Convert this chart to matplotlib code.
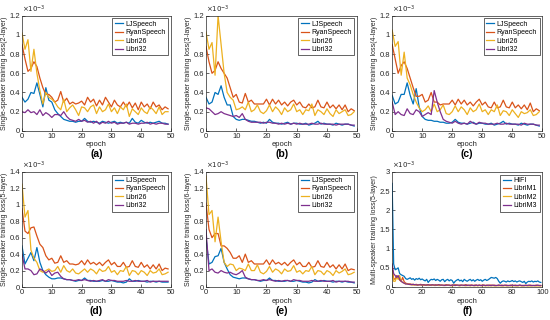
import numpy as np
import matplotlib.pyplot as plt

plt.rcParams['font.family'] = ['Liberation Sans', 'DejaVu Sans']

# losses in units of 1e-3
single_names = ['LJSpeech', 'RyanSpeech', 'Libri26', 'Libri32']
multi_names = ['HIFI', 'LibriM1', 'LibriM2', 'LibriM3']

a_lj = [0.35, 0.30, 0.33, 0.40, 0.39, 0.50, 0.38, 0.25, 0.45, 0.32, 0.30, 0.22, 0.18, 0.15, 0.12, 0.11, 0.10, 0.10, 0.09, 0.10,
        0.10, 0.13, 0.10, 0.09, 0.10, 0.09, 0.08, 0.10, 0.09, 0.08, 0.09, 0.10, 0.08, 0.09, 0.08, 0.09, 0.08, 0.13, 0.09, 0.08,
        0.11, 0.09, 0.08, 0.09, 0.08, 0.09, 0.10, 0.08, 0.08, 0.07]
a_ryan = [0.90, 0.75, 0.62, 0.65, 0.72, 0.67, 0.55, 0.45, 0.38, 0.38, 0.35, 0.30, 0.32, 0.41, 0.30, 0.34, 0.28, 0.30, 0.28, 0.29,
          0.31, 0.27, 0.35, 0.30, 0.33, 0.26, 0.32, 0.27, 0.35, 0.30, 0.25, 0.32, 0.27, 0.25, 0.30, 0.25, 0.30, 0.24, 0.29, 0.22,
          0.30, 0.25, 0.28, 0.23, 0.30, 0.25, 0.27, 0.22, 0.25, 0.23]
a_l26 = [1.02, 0.85, 0.95, 0.62, 0.85, 0.60, 0.42, 0.28, 0.40, 0.35, 0.33, 0.30, 0.25, 0.22, 0.33, 0.20, 0.24, 0.27, 0.22, 0.16,
         0.25, 0.24, 0.20, 0.25, 0.27, 0.18, 0.25, 0.20, 0.22, 0.28, 0.20, 0.24, 0.18, 0.25, 0.22, 0.28, 0.15, 0.23, 0.20, 0.17,
         0.24, 0.20, 0.18, 0.25, 0.22, 0.18, 0.25, 0.17, 0.20, 0.20]
a_l32 = [0.20, 0.19, 0.22, 0.19, 0.20, 0.17, 0.22, 0.16, 0.19, 0.17, 0.14, 0.17, 0.17, 0.16, 0.20, 0.15, 0.12, 0.11, 0.10, 0.12,
         0.10, 0.11, 0.09, 0.10, 0.08, 0.10, 0.07, 0.09, 0.08, 0.10, 0.08, 0.09, 0.07, 0.08, 0.08, 0.09, 0.07, 0.08, 0.08, 0.07,
         0.08, 0.08, 0.09, 0.07, 0.08, 0.07, 0.08, 0.08, 0.07, 0.07]

b_lj = [0.35, 0.28, 0.30, 0.40, 0.38, 0.47, 0.35, 0.27, 0.27, 0.15, 0.12, 0.11, 0.12, 0.12, 0.11, 0.10, 0.10, 0.09, 0.08, 0.09,
        0.08, 0.12, 0.09, 0.08, 0.08, 0.07, 0.08, 0.09, 0.07, 0.08, 0.08, 0.07, 0.07, 0.08, 0.06, 0.07, 0.08, 0.10, 0.07, 0.08,
        0.07, 0.07, 0.06, 0.08, 0.07, 0.06, 0.07, 0.07, 0.06, 0.05]
b_ryan = [0.88, 0.72, 0.60, 0.63, 0.72, 0.65, 0.60, 0.55, 0.45, 0.35, 0.38, 0.30, 0.29, 0.39, 0.30, 0.32, 0.28, 0.28, 0.28, 0.28,
          0.33, 0.27, 0.33, 0.28, 0.32, 0.27, 0.30, 0.26, 0.30, 0.32, 0.27, 0.30, 0.25, 0.24, 0.28, 0.24, 0.25, 0.32, 0.25, 0.24,
          0.30, 0.24, 0.27, 0.23, 0.27, 0.22, 0.27, 0.20, 0.23, 0.21]
b_l26 = [1.03, 0.85, 0.92, 0.58, 1.20, 0.90, 0.60, 0.40, 0.35, 0.32, 0.22, 0.23, 0.25, 0.22, 0.30, 0.20, 0.22, 0.27, 0.20, 0.18,
         0.21, 0.27, 0.20, 0.25, 0.22, 0.17, 0.24, 0.20, 0.22, 0.28, 0.20, 0.22, 0.17, 0.22, 0.21, 0.28, 0.16, 0.22, 0.20, 0.17,
         0.23, 0.18, 0.15, 0.22, 0.18, 0.20, 0.22, 0.16, 0.17, 0.20]
b_l32 = [0.24, 0.23, 0.20, 0.17, 0.18, 0.20, 0.18, 0.17, 0.16, 0.15, 0.16, 0.14, 0.18, 0.12, 0.10, 0.09, 0.09, 0.09, 0.09, 0.08,
         0.09, 0.09, 0.08, 0.08, 0.07, 0.08, 0.07, 0.08, 0.07, 0.08, 0.07, 0.08, 0.07, 0.07, 0.07, 0.08, 0.07, 0.07, 0.08, 0.07,
         0.07, 0.07, 0.07, 0.06, 0.07, 0.07, 0.07, 0.07, 0.06, 0.06]

c_lj = [0.37, 0.28, 0.30, 0.38, 0.38, 0.50, 0.37, 0.28, 0.44, 0.25, 0.15, 0.12, 0.11, 0.11, 0.10, 0.10, 0.09, 0.09, 0.08, 0.08,
        0.09, 0.12, 0.09, 0.08, 0.08, 0.07, 0.08, 0.09, 0.07, 0.08, 0.08, 0.07, 0.07, 0.08, 0.06, 0.07, 0.08, 0.10, 0.07, 0.08,
        0.07, 0.07, 0.06, 0.08, 0.07, 0.06, 0.07, 0.07, 0.06, 0.05]
c_ryan = [0.90, 0.75, 0.60, 0.68, 0.72, 0.65, 0.55, 0.45, 0.36, 0.36, 0.38, 0.30, 0.32, 0.40, 0.30, 0.30, 0.27, 0.28, 0.28, 0.28,
          0.32, 0.27, 0.33, 0.28, 0.32, 0.27, 0.30, 0.26, 0.30, 0.33, 0.27, 0.30, 0.25, 0.24, 0.30, 0.24, 0.25, 0.32, 0.25, 0.24,
          0.30, 0.24, 0.27, 0.23, 0.27, 0.22, 0.29, 0.20, 0.23, 0.21]
c_l26 = [1.05, 0.88, 0.93, 0.58, 0.82, 0.55, 0.48, 0.38, 0.30, 0.24, 0.20, 0.22, 0.26, 0.20, 0.28, 0.20, 0.22, 0.27, 0.18, 0.17,
         0.20, 0.26, 0.20, 0.25, 0.22, 0.17, 0.24, 0.20, 0.22, 0.28, 0.20, 0.22, 0.17, 0.22, 0.20, 0.27, 0.16, 0.21, 0.20, 0.16,
         0.22, 0.18, 0.14, 0.20, 0.18, 0.19, 0.22, 0.16, 0.17, 0.20]
c_l32 = [0.30, 0.17, 0.20, 0.17, 0.16, 0.23, 0.18, 0.17, 0.22, 0.20, 0.15, 0.17, 0.19, 0.17, 0.42, 0.30, 0.20, 0.12, 0.10, 0.09,
         0.08, 0.10, 0.08, 0.07, 0.08, 0.07, 0.10, 0.08, 0.07, 0.09, 0.08, 0.08, 0.07, 0.07, 0.07, 0.08, 0.07, 0.07, 0.08, 0.07,
         0.07, 0.07, 0.07, 0.06, 0.08, 0.07, 0.07, 0.07, 0.06, 0.06]

d_lj = [0.50, 0.28, 0.35, 0.42, 0.32, 0.48, 0.30, 0.20, 0.15, 0.12, 0.10, 0.10, 0.11, 0.11, 0.10, 0.09, 0.09, 0.08, 0.07, 0.08,
        0.08, 0.11, 0.08, 0.08, 0.07, 0.07, 0.07, 0.08, 0.07, 0.07, 0.08, 0.07, 0.06, 0.06, 0.05, 0.06, 0.10, 0.07, 0.07, 0.08,
        0.07, 0.07, 0.06, 0.07, 0.07, 0.06, 0.07, 0.06, 0.06, 0.06]
d_ryan = [0.95, 0.68, 0.65, 0.72, 0.73, 0.62, 0.52, 0.48, 0.38, 0.33, 0.35, 0.29, 0.30, 0.38, 0.30, 0.32, 0.28, 0.28, 0.27, 0.28,
          0.32, 0.27, 0.33, 0.28, 0.30, 0.27, 0.30, 0.26, 0.30, 0.33, 0.27, 0.30, 0.25, 0.25, 0.30, 0.24, 0.25, 0.32, 0.25, 0.24,
          0.30, 0.24, 0.27, 0.22, 0.27, 0.22, 0.28, 0.20, 0.23, 0.22]
d_l26 = [1.25, 0.85, 0.93, 0.45, 0.35, 0.30, 0.20, 0.18, 0.20, 0.22, 0.19, 0.20, 0.25, 0.18, 0.26, 0.20, 0.18, 0.22, 0.17, 0.16,
         0.19, 0.22, 0.18, 0.22, 0.20, 0.16, 0.22, 0.19, 0.20, 0.25, 0.18, 0.20, 0.15, 0.20, 0.19, 0.25, 0.14, 0.20, 0.19, 0.15,
         0.20, 0.18, 0.14, 0.20, 0.17, 0.18, 0.22, 0.15, 0.16, 0.18]
d_l32 = [0.40, 0.22, 0.22, 0.20, 0.15, 0.16, 0.22, 0.20, 0.17, 0.20, 0.14, 0.17, 0.18, 0.13, 0.10, 0.09, 0.09, 0.08, 0.08, 0.09,
         0.08, 0.09, 0.08, 0.07, 0.08, 0.07, 0.08, 0.09, 0.07, 0.09, 0.08, 0.08, 0.07, 0.07, 0.07, 0.08, 0.07, 0.07, 0.08, 0.07,
         0.07, 0.07, 0.08, 0.06, 0.07, 0.07, 0.07, 0.07, 0.07, 0.07]

e_lj = [0.60, 0.28, 0.30, 0.37, 0.38, 0.47, 0.30, 0.22, 0.15, 0.12, 0.11, 0.10, 0.11, 0.11, 0.10, 0.09, 0.09, 0.08, 0.07, 0.08,
        0.08, 0.11, 0.08, 0.08, 0.07, 0.07, 0.07, 0.08, 0.07, 0.07, 0.08, 0.07, 0.06, 0.06, 0.05, 0.06, 0.09, 0.07, 0.07, 0.08,
        0.07, 0.07, 0.06, 0.07, 0.07, 0.06, 0.07, 0.06, 0.06, 0.05]
e_ryan = [1.02, 0.70, 0.60, 0.65, 0.65, 0.50, 0.50, 0.47, 0.42, 0.35, 0.35, 0.38, 0.30, 0.40, 0.30, 0.32, 0.28, 0.28, 0.28, 0.28,
          0.33, 0.27, 0.33, 0.28, 0.30, 0.27, 0.30, 0.26, 0.30, 0.33, 0.27, 0.30, 0.25, 0.25, 0.30, 0.24, 0.25, 0.32, 0.25, 0.24,
          0.30, 0.24, 0.27, 0.22, 0.27, 0.22, 0.28, 0.20, 0.22, 0.21]
e_l26 = [1.35, 0.88, 0.93, 0.55, 0.85, 0.55, 0.30, 0.25, 0.28, 0.27, 0.20, 0.23, 0.22, 0.20, 0.28, 0.20, 0.20, 0.27, 0.18, 0.16,
         0.19, 0.25, 0.18, 0.22, 0.20, 0.16, 0.22, 0.19, 0.20, 0.26, 0.18, 0.20, 0.16, 0.20, 0.19, 0.25, 0.15, 0.20, 0.19, 0.15,
         0.20, 0.18, 0.14, 0.20, 0.17, 0.19, 0.22, 0.15, 0.16, 0.18]
e_l32 = [0.70, 0.20, 0.22, 0.18, 0.17, 0.20, 0.18, 0.17, 0.18, 0.16, 0.15, 0.17, 0.20, 0.12, 0.10, 0.09, 0.09, 0.08, 0.08, 0.09,
         0.08, 0.09, 0.08, 0.07, 0.08, 0.07, 0.08, 0.08, 0.07, 0.09, 0.08, 0.08, 0.07, 0.07, 0.07, 0.08, 0.07, 0.07, 0.08, 0.07,
         0.07, 0.07, 0.08, 0.06, 0.07, 0.07, 0.07, 0.07, 0.06, 0.06]

f_hifi = [2.70, 0.60, 0.45, 0.47, 0.50, 0.35, 0.32, 0.30, 0.28, 0.22, 0.20, 0.22, 0.24, 0.20, 0.22, 0.18, 0.22, 0.20, 0.23, 0.19,
          0.21, 0.18, 0.16, 0.20, 0.12, 0.17, 0.20, 0.19, 0.21, 0.17, 0.20, 0.18, 0.15, 0.19, 0.20, 0.14, 0.18, 0.20, 0.16, 0.19,
          0.17, 0.10, 0.15, 0.18, 0.20, 0.16, 0.18, 0.14, 0.20, 0.17, 0.15, 0.18, 0.20, 0.16, 0.19, 0.15, 0.18, 0.20, 0.17, 0.19,
          0.15, 0.18, 0.20, 0.17, 0.19, 0.22, 0.25, 0.24, 0.23, 0.25, 0.22, 0.15, 0.10, 0.14, 0.16, 0.15, 0.13, 0.16, 0.14, 0.15,
          0.17, 0.14, 0.16, 0.13, 0.15, 0.16, 0.14, 0.12, 0.15, 0.09, 0.13, 0.15, 0.14, 0.16, 0.13, 0.15, 0.14, 0.16, 0.13, 0.12]
f_m1 = [0.50, 0.22, 0.20, 0.30, 0.24, 0.18, 0.15, 0.25, 0.14, 0.10, 0.09, 0.08, 0.08, 0.07, 0.07, 0.06, 0.07, 0.06, 0.06, 0.07,
        0.06, 0.06, 0.05, 0.06, 0.06, 0.05, 0.06, 0.05, 0.05, 0.06, 0.05, 0.06, 0.05, 0.05, 0.04, 0.05, 0.06, 0.05, 0.05, 0.04,
        0.05, 0.05, 0.06, 0.05, 0.04, 0.05, 0.05, 0.04, 0.05, 0.06, 0.05, 0.04, 0.05, 0.05, 0.04, 0.05, 0.05, 0.04, 0.05, 0.04,
        0.05, 0.05, 0.04, 0.05, 0.04, 0.05, 0.05, 0.04, 0.05, 0.04, 0.04, 0.05, 0.04, 0.05, 0.04, 0.04, 0.05, 0.04, 0.04, 0.05,
        0.04, 0.04, 0.05, 0.04, 0.04, 0.05, 0.04, 0.04, 0.04, 0.05, 0.04, 0.04, 0.05, 0.04, 0.04, 0.04, 0.05, 0.04, 0.04, 0.04]
f_m2 = [0.40, 0.15, 0.15, 0.25, 0.20, 0.30, 0.15, 0.12, 0.10, 0.08, 0.08, 0.07, 0.06, 0.06, 0.05, 0.06, 0.05, 0.05, 0.06, 0.05,
        0.05, 0.04, 0.05, 0.05, 0.04, 0.05, 0.04, 0.05, 0.04, 0.04, 0.05, 0.04, 0.04, 0.05, 0.04, 0.04, 0.04, 0.05, 0.04, 0.04,
        0.03, 0.04, 0.04, 0.05, 0.04, 0.03, 0.04, 0.04, 0.04, 0.03, 0.04, 0.04, 0.03, 0.04, 0.04, 0.03, 0.04, 0.03, 0.04, 0.04,
        0.03, 0.04, 0.03, 0.04, 0.03, 0.04, 0.03, 0.04, 0.03, 0.03, 0.04, 0.03, 0.04, 0.03, 0.03, 0.04, 0.03, 0.03, 0.04, 0.03,
        0.03, 0.04, 0.03, 0.03, 0.03, 0.04, 0.03, 0.03, 0.03, 0.04, 0.03, 0.03, 0.03, 0.03, 0.04, 0.03, 0.03, 0.03, 0.03, 0.03]
f_m3 = [0.60, 0.35, 0.30, 0.25, 0.30, 0.20, 0.15, 0.12, 0.10, 0.08, 0.08, 0.07, 0.07, 0.06, 0.07, 0.06, 0.06, 0.05, 0.06, 0.06,
        0.05, 0.06, 0.05, 0.05, 0.06, 0.05, 0.05, 0.06, 0.05, 0.05, 0.05, 0.06, 0.05, 0.05, 0.05, 0.04, 0.05, 0.05, 0.05, 0.04,
        0.05, 0.05, 0.04, 0.05, 0.05, 0.04, 0.05, 0.05, 0.04, 0.05, 0.04, 0.05, 0.04, 0.05, 0.04, 0.04, 0.05, 0.04, 0.05, 0.04,
        0.04, 0.05, 0.04, 0.04, 0.05, 0.04, 0.04, 0.05, 0.04, 0.04, 0.04, 0.05, 0.04, 0.04, 0.04, 0.05, 0.04, 0.04, 0.04, 0.04,
        0.05, 0.04, 0.04, 0.04, 0.04, 0.05, 0.04, 0.04, 0.04, 0.04, 0.04, 0.05, 0.04, 0.04, 0.04, 0.04, 0.04, 0.05, 0.04, 0.04]

colors = ['#0072BD', '#D95319', '#EDB120', '#7E2F8E']

panels = [
    ('(a)', 'Single-speaker training loss(2-layer)', single_names, [a_lj, a_ryan, a_l26, a_l32], 1.2, 0.2, 50, 10),
    ('(b)', 'Single-speaker training loss(3-layer)', single_names, [b_lj, b_ryan, b_l26, b_l32], 1.2, 0.2, 50, 10),
    ('(c)', 'Single-speaker training loss(4-layer)', single_names, [c_lj, c_ryan, c_l26, c_l32], 1.2, 0.2, 50, 10),
    ('(d)', 'Single-speaker training loss(5-layer)', single_names, [d_lj, d_ryan, d_l26, d_l32], 1.4, 0.2, 50, 10),
    ('(e)', 'Single-speaker training loss(6-layer)', single_names, [e_lj, e_ryan, e_l26, e_l32], 1.4, 0.2, 50, 10),
    ('(f)', 'Multi-speaker training loss(5-layer)', multi_names, [f_hifi, f_m1, f_m2, f_m3], 3.0, 0.5, 100, 20),
]

lefts = [0.040, 0.3745, 0.713]
widths = [0.271, 0.275, 0.273]
bottoms = [0.591, 0.103]
height = 0.36

fig = plt.figure(figsize=(5.5, 3.2), dpi=100)
grey = '#262626'

for i, (tag, ylab, names, series, ymax, ystep, xmax, xstep) in enumerate(panels):
    r, c = divmod(i, 3)
    ax = fig.add_axes([lefts[c], bottoms[r], widths[c], height])
    for name, vals, col in zip(names, series, colors):
        ax.plot(np.arange(len(vals)), vals, color=col, lw=0.9, label=name)
    ax.set_xlim(0, xmax)
    ax.set_ylim(0, ymax)
    ax.set_xticks(np.arange(0, xmax + 1, xstep))
    yt = np.round(np.arange(0, ymax + 1e-9, ystep), 2)
    ax.set_yticks(yt)
    ax.set_yticklabels(['%g' % v for v in yt])
    ax.tick_params(direction='in', length=2, width=0.5, labelsize=5.5, colors=grey, pad=1.5)
    for s in ax.spines.values():
        s.set_linewidth(0.5)
        s.set_color(grey)
    ax.set_xlabel('epoch', fontsize=5.5, color=grey, labelpad=1)
    ax.set_ylabel(ylab, fontsize=5, color=grey, labelpad=1)
    ax.text(0.0, 1.005, r'$\times 10^{-3}$', transform=ax.transAxes, fontsize=5, color=grey,
            ha='left', va='bottom')
    leg = ax.legend(loc='upper right', fontsize=5, handlelength=1.2, borderpad=0.35,
                    labelspacing=0.2, handletextpad=0.35, borderaxespad=0.4,
                    fancybox=False, framealpha=1)
    leg.get_frame().set_linewidth(0.5)
    leg.get_frame().set_edgecolor(grey)
    cx = lefts[c] + widths[c] / 2
    fig.text(cx, bottoms[r] - 0.058, tag, ha='center', va='top', fontsize=7.5, fontweight='bold')

fig.savefig('out.png', dpi=100)
